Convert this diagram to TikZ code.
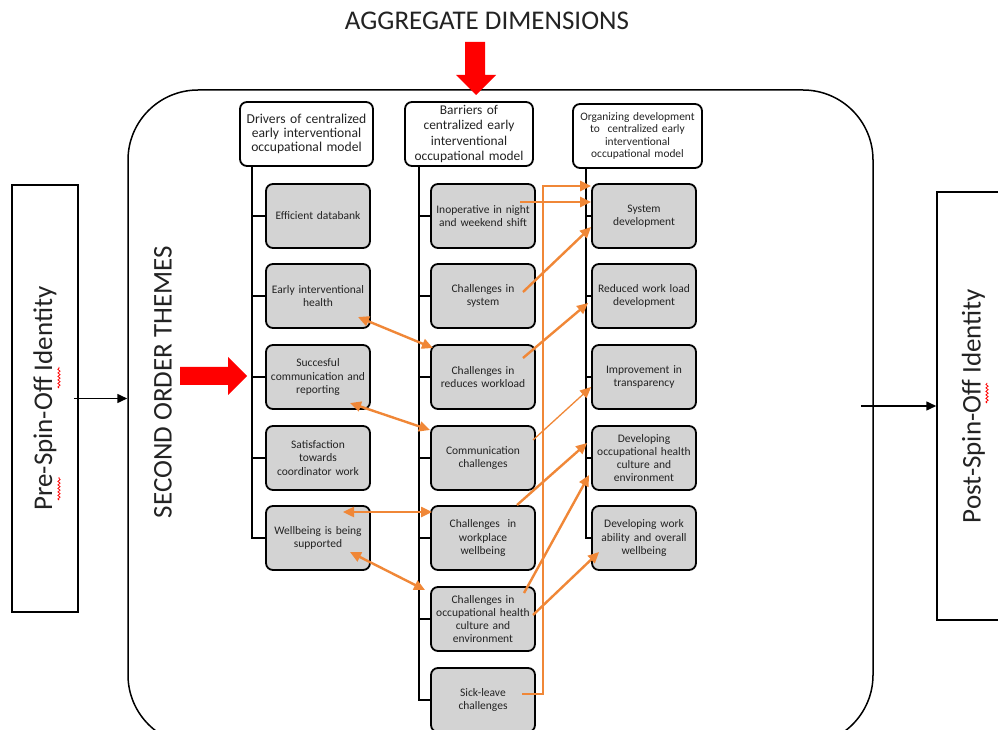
\documentclass[tikz,border=0pt]{standalone}
\usepackage{fontspec}
\setmainfont{Carlito}
\usetikzlibrary{arrows.meta,decorations.pathmorphing,calc}
\definecolor{org}{RGB}{240,135,55}
\definecolor{boxgray}{RGB}{211,211,211}
\definecolor{txt}{RGB}{35,35,35}
\begin{document}
\begin{tikzpicture}[x=1pt,y=1pt,
  theme/.style={draw=black, line width=1.8pt, rounded corners=7pt, fill=boxgray, minimum width=104pt, minimum height=64pt, align=center, text=txt, font=\fontsize{11.5}{13.2}\selectfont, inner sep=1pt, text width=102pt},
  head/.style={draw=black, line width=1.8pt, rounded corners=7pt, fill=white, minimum height=64pt, align=center, text=txt, inner sep=1pt},
  tree/.style={draw=black, line width=1.8pt},
  oarr/.style={draw=org, line width=2.4pt, -{Triangle[length=11pt,width=10pt]}},
  barr/.style={draw=org, line width=2.4pt, {Triangle[length=11pt,width=10pt]}-{Triangle[length=11pt,width=10pt]}},
  side/.style={draw=black, line width=1.5pt, rotate=90, font=\fontsize{27}{30}\selectfont, text=txt},
  squig/.style={draw=red, line width=0.8pt, decorate, decoration={snake, amplitude=1.1pt, segment length=3.5pt}}
]
\useasboundingbox (0,0) rectangle (998,729);
\clip (0,0) rectangle (998,729);
\fill[white] (0,0) rectangle (998,729);

% title and frame
\node[font=\fontsize{27}{30}\selectfont, text=txt] (title) at (487,708) {AGGREGATE DIMENSIONS};
\node[draw=black, line width=1.5pt, rounded corners=70pt, minimum width=745pt, minimum height=655pt] (frame) at (500.5,311.5) {};
\node[rotate=90, font=\fontsize{27}{30}\selectfont, text=txt] (sot) at (163,347) {SECOND ORDER THEMES};

% red arrows
\fill[red] (465,687) -- (485,687) -- (485,654) -- (496,654) -- (476,634) -- (456,654) -- (465,654) -- cycle;
\fill[red] (180,362) -- (228,362) -- (228,372) -- (247,353) -- (228,334) -- (228,344) -- (180,344) -- cycle;

% side boxes
\node[side, minimum width=427pt, minimum height=66pt] (pre) at (45,330.5) {Pre-Spin-Off Identity};
\node[side, minimum width=428pt, minimum height=73pt] (post) at (973.5,323) {Post-Spin-Off Identity};
\draw[line width=1.5pt, -{Triangle[length=10pt,width=9pt]}] ([xshift=-5]pre.south) -- (pre.south -| frame.west);
\draw[line width=1.5pt, -{Triangle[length=10pt,width=9pt]}] ([xshift=-13]frame.east |- post.north) -- (post.north);
\draw[squig] (59,229) -- (59,252);
\draw[squig] (59,341) -- (59,362);
\draw[squig] (987,326) -- (987,346);

% headers
\node[head, minimum width=133pt, text width=131pt, font=\fontsize{13.6}{14.2}\selectfont] (h1) at (306.5,595) {Drivers of centralized\\early interventional\\occupational model};
\node[head, minimum width=128pt, text width=126pt, font=\fontsize{13.4}{15.4}\selectfont] (h2) at (469,595) {Barriers of\\centralized early\\interventional\\occupational model};
\node[head, minimum width=129pt, text width=127pt, font=\fontsize{11.4}{12.6}\selectfont] (h3) at (637.5,593) {Organizing development\\to\ \ centralized early\\interventional\\occupational model};

% column 1
\node[theme] (a1) at (318,513) {Efficient databank};
\node[theme] (a2) at (318,433) {Early interventional\\health};
\node[theme] (a3) at (318,352) {Succesful\\communication and\\reporting};
\node[theme] (a4) at (318,271) {Satisfaction\\towards\\coordinator work};
\node[theme] (a5) at (318,191) {Wellbeing is being\\supported};

% column 2
\node[theme] (b1) at (483,513) {Inoperative in night\\and weekend shift};
\node[theme] (b2) at (483,433) {Challenges in\\system};
\node[theme] (b3) at (483,352) {Challenges in\\reduces workload};
\node[theme] (b4) at (483,271) {Communication\\challenges};
\node[theme] (b5) at (483,191) {Challenges\ \ in\\workplace\\wellbeing};
\node[theme] (b6) at (483,110) {Challenges in\\occupational health\\culture and\\environment};
\node[theme] (b7) at (483,29) {Sick-leave\\challenges};

% column 3
\node[theme] (c1) at (644,513) {System\\development};
\node[theme] (c2) at (644,433) {Reduced work load\\development};
\node[theme] (c3) at (644,352) {Improvement in\\transparency};
\node[theme] (c4) at (644,271) {Developing\\occupational health\\culture and\\environment};
\node[theme] (c5) at (644,191) {Developing work\\ability and overall\\wellbeing};

% tree lines
\coordinate (l1) at ([xshift=13]h1.south west);
\coordinate (l2) at ([xshift=15]h2.south west);
\coordinate (l3) at ([xshift=14]h3.south west);
\draw[tree] (l1) |- (a5.west);
\foreach \n in {a1,a2,a3,a4} \draw[tree] (\n.west) -- (\n.west -| l1);
\draw[tree] (l2) |- (b7.west);
\foreach \n in {b1,b2,b3,b4,b5,b6} \draw[tree] (\n.west) -- (\n.west -| l2);
\draw[tree] (l3) |- (c5.west);
\foreach \n in {c1,c2,c3,c4} \draw[tree] (\n.west) -- (\n.west -| l3);

% orange connectors
\draw[oarr] ([shift={(39,6)}]b7.center) -- ++(21,0) |- ([yshift=30]c1.west);
\draw[oarr] ([shift={(37,14)}]b1.center) -- ([yshift=14]c1.west);
\draw[oarr] ([shift={(40,4)}]b2.center) -- ([yshift=-11]c1.west);
\draw[oarr] ([shift={(40,19)}]b3.center) -- ([shift={(-3,-7)}]c2.west);
\draw[oarr, line width=1.3pt] ([shift={(50,18)}]b4.center) -- ([yshift=-10]c3.west);
\draw[oarr] ([shift={(34,33)}]b5.center) -- ([shift={(-4,15)}]c4.west);
\draw[oarr] ([shift={(41,26)}]b6.center) -- ([shift={(-2,-17)}]c4.west);
\draw[oarr] ([shift={(50,4)}]b6.center) -- ([shift={(8,-14)}]c5.west);

\draw[barr] ([shift={(40,-21)}]a2.center) -- ([shift={(-50,29)}]b3.center);
\draw[barr] ([shift={(32,-26)}]a3.center) -- ([shift={(-53,28)}]b4.center);
\draw[barr] ([shift={(25,26)}]a5.center) -- ([shift={(-51,26)}]b5.center);
\draw[barr] ([shift={(32,-14)}]a5.center) -- ([shift={(-58,29)}]b6.center);
\end{tikzpicture}
\end{document}
